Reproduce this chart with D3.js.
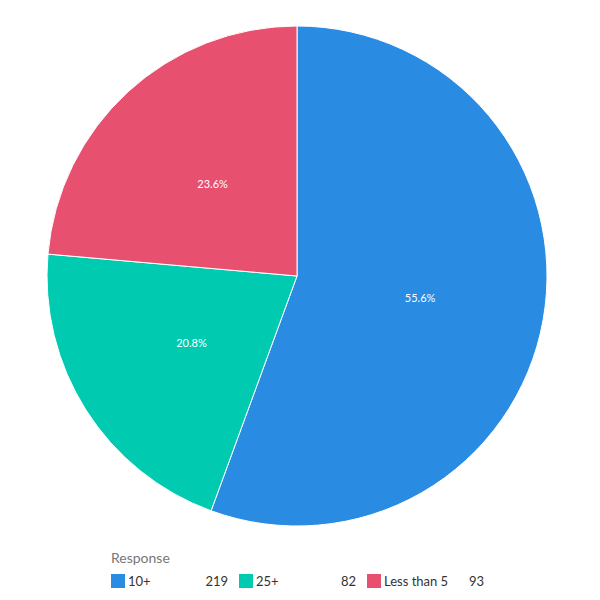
<!DOCTYPE html>
<html>
<head>
<meta charset="utf-8">
<script src="https://cdn.jsdelivr.net/npm/d3@7"></script>
<style>
  body { margin: 0; background: #fff; }
  text { font-family: Lato, "Open Sans", sans-serif; }
</style>
</head>
<body>
<div id="chart"></div>
<script>
// chart data
const categories = ["10+", "25+", "Less than 5"];
const values = [219, 82, 93];
const colors = ["#2a8be2", "#00cbb0", "#e8506f"];
const legendTitle = "Response";

const width = 600, height = 600;
const cx = 297, cy = 276, radius = 250;

const svg = d3.select("#chart").append("svg")
    .attr("width", width)
    .attr("height", height);

const data = categories.map((c, i) => ({ name: c, value: values[i], color: colors[i] }));
const total = d3.sum(values);

const pie = d3.pie().value(d => d.value).sort(null);
const arc = d3.arc().innerRadius(0).outerRadius(radius);
const labelArc = d3.arc().innerRadius(radius / 2).outerRadius(radius / 2);

const plot = svg.append("g")
    .attr("transform", `translate(${cx},${cy})`);

const slices = plot.selectAll("g.slice")
    .data(pie(data))
    .join("g")
    .attr("class", "slice");

slices.append("path")
    .attr("d", arc)
    .attr("fill", d => d.data.color)
    .attr("stroke", "#fff")
    .attr("stroke-width", 1);

slices.append("text")
    .attr("transform", d => `translate(${labelArc.centroid(d)})`)
    .attr("text-anchor", "middle")
    .attr("dy", "0.35em")
    .attr("fill", "#fff")
    .attr("font-size", 11)
    .text(d => (d.data.value / total * 100).toFixed(1) + "%");

// legend
const legend = svg.append("g")
    .attr("transform", "translate(111,0)");

legend.append("text")
    .attr("x", 0)
    .attr("y", 563)
    .attr("fill", "#777")
    .attr("font-size", 14)
    .text(legendTitle);

const items = legend.selectAll("g.item")
    .data(data)
    .join("g")
    .attr("class", "item")
    .attr("transform", (d, i) => `translate(${i * 128},574)`);

items.append("rect")
    .attr("width", 14)
    .attr("height", 14)
    .attr("fill", d => d.color);

items.append("text")
    .attr("x", 17)
    .attr("y", 12)
    .attr("fill", "#333")
    .attr("font-size", 13)
    .text(d => d.name);

items.append("text")
    .attr("x", 117)
    .attr("y", 12)
    .attr("text-anchor", "end")
    .attr("fill", "#333")
    .attr("font-size", 13)
    .text(d => d.value);
</script>
</body>
</html>
